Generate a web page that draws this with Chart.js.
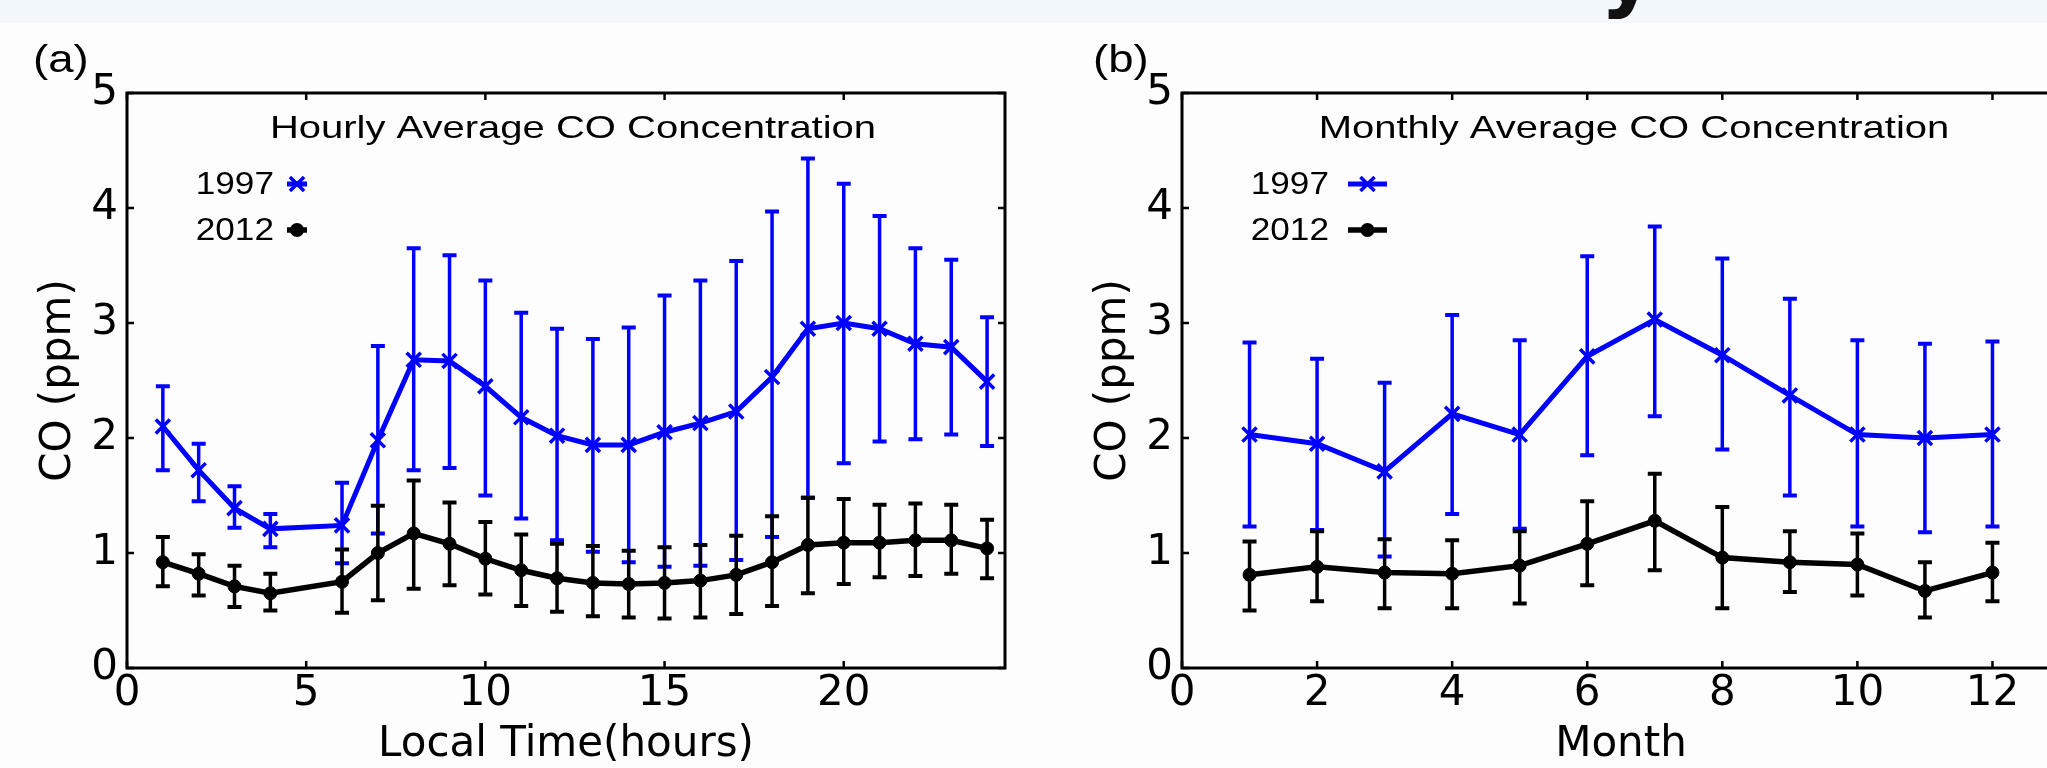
<!DOCTYPE html>
<html>
<head>
<meta charset="utf-8">
<script src="https://cdn.jsdelivr.net/npm/chart.js@4.4.0/dist/chart.umd.min.js"></script>
<style>
  html, body { margin: 0; padding: 0; width: 2047px; height: 768px; overflow: hidden; background: #fdfdfd; }
  #band { position: absolute; left: 0; top: 0; width: 2047px; height: 23px; background: #f3f8fc; overflow: hidden; }
  #band span { position: absolute; left: 1600px; top: -72px; font: bold 86px 'DejaVu Sans'; line-height: 86px; color: #111; }
  canvas { position: absolute; top: 0; }
</style>
</head>
<body>
<div id="band"><span>y</span></div>
<canvas id="chartHourly" width="1040" height="768" style="left:0"></canvas>
<canvas id="chartMonthly" width="1040" height="768" style="left:1055px"></canvas>
<script>
// valores (CO em ppm)
const hours = [1, 2, 3, 4, 6, 7, 8, 9, 10, 11, 12, 13, 14, 15, 16, 17, 18, 19, 20, 21, 22, 23, 24];
const hourly1997   = [2.10, 1.72, 1.39, 1.21, 1.24, 1.98, 2.68, 2.67, 2.45, 2.18, 2.02, 1.94, 1.94, 2.05, 2.13, 2.23, 2.53, 2.95, 3.00, 2.95, 2.82, 2.79, 2.49];
const hourly1997Hi = [2.45, 1.95, 1.58, 1.34, 1.61, 2.80, 3.65, 3.59, 3.37, 3.09, 2.95, 2.86, 2.96, 3.24, 3.37, 3.54, 3.97, 4.43, 4.21, 3.93, 3.65, 3.55, 3.05];
const hourly1997Lo = [1.72, 1.45, 1.22, 1.05, 0.91, 1.17, 1.72, 1.74, 1.50, 1.30, 1.11, 1.01, 0.92, 0.88, 0.89, 0.94, 1.14, 1.48, 1.78, 1.97, 1.99, 2.03, 1.93];
const hourly2012   = [0.92, 0.82, 0.71, 0.65, 0.75, 1.00, 1.17, 1.08, 0.95, 0.85, 0.78, 0.74, 0.73, 0.74, 0.76, 0.81, 0.92, 1.07, 1.09, 1.09, 1.11, 1.11, 1.04];
const hourly2012Hi = [1.14, 0.99, 0.89, 0.82, 1.03, 1.41, 1.63, 1.44, 1.27, 1.16, 1.08, 1.06, 1.02, 1.05, 1.07, 1.15, 1.32, 1.48, 1.47, 1.42, 1.43, 1.42, 1.29];
const hourly2012Lo = [0.71, 0.63, 0.53, 0.50, 0.48, 0.59, 0.69, 0.72, 0.64, 0.54, 0.49, 0.45, 0.44, 0.43, 0.44, 0.47, 0.54, 0.65, 0.73, 0.79, 0.80, 0.82, 0.78];

const months = [1, 2, 3, 4, 5, 6, 7, 8, 9, 10, 11, 12];
const monthly1997   = [2.03, 1.95, 1.71, 2.21, 2.03, 2.71, 3.03, 2.72, 2.37, 2.03, 2.00, 2.03];
const monthly1997Hi = [2.83, 2.69, 2.48, 3.07, 2.85, 3.58, 3.84, 3.56, 3.21, 2.85, 2.82, 2.84];
const monthly1997Lo = [1.23, 1.20, 0.97, 1.34, 1.21, 1.85, 2.19, 1.90, 1.50, 1.23, 1.18, 1.23];
const monthly2012   = [0.81, 0.88, 0.83, 0.82, 0.89, 1.08, 1.28, 0.96, 0.92, 0.90, 0.67, 0.83];
const monthly2012Hi = [1.10, 1.19, 1.12, 1.11, 1.19, 1.45, 1.69, 1.40, 1.19, 1.17, 0.92, 1.09];
const monthly2012Lo = [0.50, 0.58, 0.52, 0.52, 0.56, 0.72, 0.85, 0.52, 0.66, 0.63, 0.44, 0.58];

const hourTicks = [0, 5, 10, 15, 20];
const monthTicks = [0, 2, 4, 6, 8, 10, 12];
const coTicks = [0, 1, 2, 3, 4, 5];
const seriesNames = ['1997', '2012'];

const AZUL = '#0000ff';
const PRETO = '#000000';
const fonteNum = { family: 'DejaVu Sans', size: 42, lineHeight: 1 };
const fonteArial = "32px 'Liberation Sans', Arial, sans-serif";

// texto esticado na horizontal (o original tem letras mais largas)
function textoLargo(ctx, txt, x, y, font, sx, align) {
  ctx.save();
  ctx.font = font;
  ctx.textBaseline = 'alphabetic';
  ctx.textAlign = 'left';
  const w = ctx.measureText(txt).width * sx;
  const left = align === 'center' ? x - w / 2 : align === 'right' ? x - w : x;
  ctx.translate(left, y);
  ctx.scale(sx, 1);
  ctx.fillStyle = '#000';
  ctx.fillText(txt, 0, 0);
  ctx.restore();
}

function marcador(ctx, ds, x, y) {
  ctx.save();
  if (ds.pointStyle === 'crossRot') {
    const o = Math.cos(Math.PI / 4) * ds.pointRadius;
    ctx.strokeStyle = ds.borderColor;
    ctx.lineWidth = ds.pointBorderWidth;
    ctx.beginPath();
    ctx.moveTo(x - o, y - o); ctx.lineTo(x + o, y + o);
    ctx.moveTo(x - o, y + o); ctx.lineTo(x + o, y - o);
    ctx.stroke();
  } else {
    ctx.fillStyle = ds.borderColor;
    ctx.beginPath();
    ctx.arc(x, y, ds.pointRadius + 0.5, 0, Math.PI * 2);
    ctx.fill();
  }
  ctx.restore();
}

// barras de erro, moldura, ticks internos, titulo e legenda
const enfeites = {
  id: 'enfeites',
  beforeDatasetDraw(chart, args) {
    const ds = chart.data.datasets[args.index];
    const { ctx, scales: { x, y } } = chart;
    ctx.save();
    ctx.strokeStyle = ds.borderColor;
    ds.data.forEach((p, i) => {
      const px = x.getPixelForValue(p.x);
      const yh = y.getPixelForValue(ds.hi[i]);
      const yl = y.getPixelForValue(ds.lo[i]);
      ctx.lineWidth = 3.5;
      ctx.beginPath();
      ctx.moveTo(px, yh); ctx.lineTo(px, yl);
      ctx.stroke();
      ctx.lineWidth = 4;
      ctx.beginPath();
      ctx.moveTo(px - 7, yh); ctx.lineTo(px + 7, yh);
      ctx.moveTo(px - 7, yl); ctx.lineTo(px + 7, yl);
      ctx.stroke();
    });
    ctx.restore();
  },
  afterDraw(chart, args, opts) {
    const { ctx, chartArea: a, scales: { x, y } } = chart;
    ctx.save();
    ctx.strokeStyle = '#000';
    ctx.lineWidth = 3;
    ctx.strokeRect(a.left, a.top, a.right - a.left, a.bottom - a.top);
    ctx.lineWidth = 2.5;
    ctx.beginPath();
    x.ticks.forEach(t => {
      const px = x.getPixelForValue(t.value);
      ctx.moveTo(px, a.bottom); ctx.lineTo(px, a.bottom - 7);
      ctx.moveTo(px, a.top); ctx.lineTo(px, a.top + 7);
    });
    y.ticks.forEach(t => {
      const py = y.getPixelForValue(t.value);
      ctx.moveTo(a.left, py); ctx.lineTo(a.left + 7, py);
      ctx.moveTo(a.right, py); ctx.lineTo(a.right - 7, py);
    });
    ctx.stroke();
    ctx.restore();

    textoLargo(ctx, opts.painel, opts.painelX, 72, "38px 'Liberation Sans', Arial, sans-serif", 1.2, 'left');
    textoLargo(ctx, opts.titulo, opts.tituloX, 138, fonteArial, 1.25, 'center');

    // legenda
    const linhas = [184, 230];
    chart.data.datasets.slice().sort((d1, d2) => d1.legendIndex - d2.legendIndex).forEach((ds, i) => {
      const ly = linhas[i];
      textoLargo(ctx, seriesNames[i], 274, ly + 10, fonteArial, 1.1, 'right');
      ctx.save();
      ctx.strokeStyle = ds.borderColor;
      ctx.lineWidth = ds.borderWidth;
      ctx.beginPath();
      ctx.moveTo(opts.handle[0], ly); ctx.lineTo(opts.handle[1], ly);
      ctx.stroke();
      ctx.restore();
      marcador(ctx, ds, (opts.handle[0] + opts.handle[1]) / 2, ly);
    });
  }
};

function serie(xs, ys, lo, hi, cor, estilo) {
  return {
    data: xs.map((v, i) => ({ x: v, y: ys[i] })),
    lo: lo, hi: hi,
    borderColor: cor,
    backgroundColor: cor,
    borderWidth: estilo === 'crossRot' ? 5 : 5.5,
    pointStyle: estilo,
    pointRadius: estilo === 'crossRot' ? 10 : 6.5,
    pointBorderWidth: estilo === 'crossRot' ? 3.5 : 1,
    pointBackgroundColor: cor,
    pointBorderColor: cor,
    tension: 0,
    fill: false
  };
}

function fazerGrafico(id, xs, s97, s97lo, s97hi, s12, s12lo, s12hi, xmax, xticks, xtitle, deco) {
  const d97 = serie(xs, s97, s97lo, s97hi, AZUL, 'crossRot');
  d97.order = 2; d97.legendIndex = 0;
  const d12 = serie(xs, s12, s12lo, s12hi, PRETO, 'circle');
  d12.order = 1; d12.legendIndex = 1;
  return new Chart(document.getElementById(id).getContext('2d'), {
    type: 'line',
    data: { datasets: [d97, d12] },
    plugins: [enfeites],
    options: {
      responsive: false,
      animation: false,
      layout: { padding: { top: 93, right: 35, left: 0, bottom: 0 } },
      plugins: { legend: { display: false }, tooltip: { enabled: false }, enfeites: deco },
      scales: {
        x: {
          type: 'linear', min: 0, max: xmax,
          grid: { display: false, drawTicks: false },
          border: { display: false },
          afterBuildTicks: s => { s.ticks = xticks.map(v => ({ value: v })); },
          afterFit: s => { s.height = 100; },
          ticks: { font: fonteNum, color: '#000', padding: 5, maxRotation: 0, autoSkip: false },
          title: { display: true, text: xtitle, font: fonteNum, color: '#000', padding: { top: 0, bottom: 2 } }
        },
        y: {
          type: 'linear', min: 0, max: 5,
          grid: { display: false, drawTicks: false },
          border: { display: false },
          afterBuildTicks: s => { s.ticks = coTicks.map(v => ({ value: v })); },
          afterFit: s => { s.width = 127; },
          ticks: { font: fonteNum, color: '#000', padding: 9 },
          title: { display: true, text: 'CO (ppm)', font: fonteNum, color: '#000', padding: { top: 38, bottom: 0 } }
        }
      }
    }
  });
}

fazerGrafico('chartHourly', hours, hourly1997, hourly1997Lo, hourly1997Hi,
  hourly2012, hourly2012Lo, hourly2012Hi, 24.5, hourTicks, 'Local Time(hours)',
  { painel: '(a)', painelX: 33, titulo: 'Hourly Average CO Concentration', tituloX: 573, handle: [287, 307] });

fazerGrafico('chartMonthly', months, monthly1997, monthly1997Lo, monthly1997Hi,
  monthly2012, monthly2012Lo, monthly2012Hi, 13, monthTicks, 'Month',
  { painel: '(b)', painelX: 38, titulo: 'Monthly Average CO Concentration', tituloX: 579, handle: [293, 332] });
</script>
</body>
</html>
